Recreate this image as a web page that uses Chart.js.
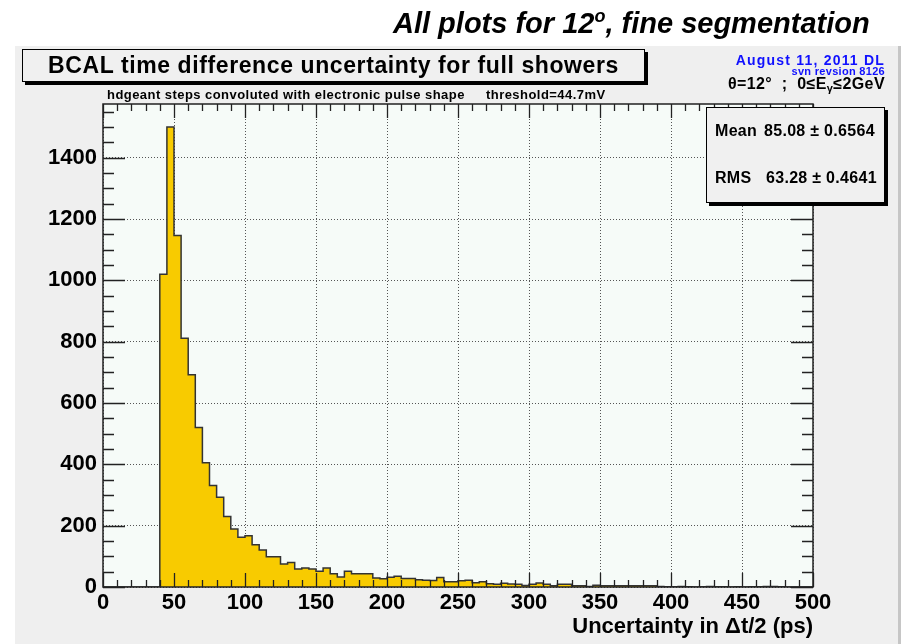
<!DOCTYPE html>
<html>
<head>
<meta charset="utf-8">
<script src="https://cdn.jsdelivr.net/npm/chart.js@4"></script>
<style>
  body { margin: 0; width: 907px; height: 644px; overflow: hidden; position: relative; background: #fff;
         font-family: "Liberation Sans", Arial, sans-serif; }
  .abs { position: absolute; white-space: nowrap; }
  #panel { left: 15px; top: 46px; width: 883px; height: 598px; background: #efefef; border-right: 3px solid #c6c6c6; }
  #chart { position: absolute; left: 0; top: 0; }
  #header { left: 393px; top: 7px; font: italic bold 29px "Liberation Sans", Arial, sans-serif; line-height: 33px; color: #000; }
  #header sup { font-size: 18px; vertical-align: 11px; line-height: 0; }
  #titlebox { left: 22px; top: 49px; width: 621px; height: 31px; background: #f0f0f0; border: 1px solid #000;
              box-shadow: 3px 3px 0 #000; text-align: center; font: bold 23px "Liberation Sans", Arial, sans-serif;
              line-height: 31px; letter-spacing: 0.6px; }
  .sub { top: 87px; font: bold 13px "Liberation Sans", Arial, sans-serif; line-height: 15px; letter-spacing: 0.45px; }
  .right { right: 22px; text-align: right; font-weight: bold; }
  #date { top: 52px; font-size: 14px; line-height: 16px; color: #1010ff; letter-spacing: 1.2px; }
  #svn { top: 66px; font-size: 11px; line-height: 11px; color: #1010ff; letter-spacing: 0.3px; }
  #cuts { top: 75px; font-size: 16px; line-height: 17px; color: #000; letter-spacing: 0.4px; }
  #cuts sub { font-size: 11px; vertical-align: -3px; line-height: 0; }
  #stats { left: 706px; top: 107px; width: 177px; height: 94px; background: #f0f0f0; border: 1px solid #000;
           box-shadow: 3px 3px 0 #000; font: bold 16px "Liberation Sans", Arial, sans-serif; letter-spacing: 0.3px; }
  #stats div { position: absolute; line-height: 18px; }
</style>
</head>
<body>
<div id="panel" class="abs"></div>
<canvas id="chart" width="907" height="644"></canvas>
<div id="header" class="abs">All plots for 12<sup>o</sup>, fine segmentation</div>
<div id="titlebox" class="abs">BCAL time difference uncertainty for full showers</div>
<div class="abs sub" style="left:107px">hdgeant steps convoluted with electronic pulse shape</div>
<div class="abs sub" style="left:486px">threshold=44.7mV</div>
<div id="date" class="abs right">August 11, 2011 DL</div>
<div id="svn" class="abs right">svn revsion 8126</div>
<div id="cuts" class="abs right">&theta;=12&deg; &nbsp;; &nbsp;0&le;E<sub>&gamma;</sub>&le;2GeV</div>
<div id="stats" class="abs">
  <div style="left:8px; top:14px">Mean</div>
  <div style="left:57px; top:14px">85.08 &plusmn; 0.6564</div>
  <div style="left:8px; top:61px">RMS</div>
  <div style="left:59px; top:61px">63.28 &plusmn; 0.4641</div>
</div>
<script>
// histogram: 100 bins of 5 ps from 0 to 500
const xMin = 0;
const xMax = 500;
const binWidth = 5;
const counts = [
  0, 0, 0, 0, 0, 0, 0, 0, 1020, 1500,
  1146, 811, 692, 520, 405, 331, 293, 230, 189, 162,
  167, 138, 121, 99, 99, 75, 80, 59, 62, 59,
  51, 62, 43, 33, 51, 43, 43, 43, 29, 27,
  32, 35, 28, 28, 24, 22, 21, 31, 17, 17,
  20, 22, 14, 17, 11, 9, 12, 10, 9, 5,
  9, 13, 9, 4, 9, 9, 4, 4, 2, 6,
  4, 4, 4, 4, 4, 4, 4, 4, 2, 1,
  1, 2, 1, 0, 1, 2, 1, 1, 0, 1,
  0, 1, 1, 2, 2, 1, 0, 0, 0, 0
];
const yMax = 1575;
const xTickValues = [0, 50, 100, 150, 200, 250, 300, 350, 400, 450, 500];
const yTickValues = [0, 200, 400, 600, 800, 1000, 1200, 1400];
const xMinorStep = 10;
const yMinorStep = 50;
const xTitle = 'Uncertainty in \u0394t/2 (ps)';

const points = counts.map((c, i) => ({ x: xMin + i * binWidth, y: c }));
points.push({ x: xMax, y: counts[counts.length - 1] });

// ROOT-like frame: pad colour, ticks on all four sides pointing inwards
const rootFrame = {
  id: 'rootFrame',
  beforeDraw(chart) {
    const { ctx, chartArea: a } = chart;
    ctx.save();
    ctx.fillStyle = '#f6fbf8';
    ctx.fillRect(a.left, a.top, a.right - a.left, a.bottom - a.top);
    ctx.restore();
  },
  afterDatasetsDraw(chart) {
    const { ctx, chartArea: a, scales: { x, y } } = chart;
    ctx.save();
    ctx.strokeStyle = '#222';
    ctx.lineWidth = 1.3;
    ctx.beginPath();
    for (let v = xMin; v <= xMax; v += xMinorStep) {
      const px = Math.round(x.getPixelForValue(v)) + 0.5;
      const len = xTickValues.includes(v) ? 14 : 7;
      ctx.moveTo(px, a.bottom); ctx.lineTo(px, a.bottom - len);
      ctx.moveTo(px, a.top); ctx.lineTo(px, a.top + len);
    }
    for (let v = 0; v <= yMax; v += yMinorStep) {
      const py = Math.round(y.getPixelForValue(v)) + 0.5;
      const len = yTickValues.includes(v) ? 22 : 11;
      ctx.moveTo(a.left, py); ctx.lineTo(a.left + len, py);
      ctx.moveTo(a.right, py); ctx.lineTo(a.right - len, py);
    }
    ctx.stroke();
    ctx.lineWidth = 1.5;
    ctx.strokeRect(a.left, a.top, a.right - a.left, a.bottom - a.top);
    ctx.restore();
  }
};

Chart.defaults.font.family = '"Liberation Sans", Arial, sans-serif';

new Chart(document.getElementById('chart'), {
  type: 'line',
  data: {
    datasets: [{
      data: points,
      stepped: 'before',
      fill: 'origin',
      backgroundColor: '#f8cb00',
      borderColor: '#333',
      borderWidth: 1.5,
      pointRadius: 0,
      tension: 0
    }]
  },
  options: {
    responsive: false,
    animation: false,
    layout: { padding: { left: 0, right: 94, top: 104, bottom: 0 } },
    plugins: { legend: { display: false }, tooltip: { enabled: false } },
    scales: {
      x: {
        type: 'linear',
        min: xMin,
        max: xMax,
        afterFit: (s) => { s.height = 57; },
        afterBuildTicks: (s) => { s.ticks = xTickValues.map((v) => ({ value: v })); },
        ticks: {
          color: '#000', font: { size: 22, weight: 'bold' }, padding: 3, maxRotation: 0, autoSkip: false,
          callback: (v) => String(v)
        },
        grid: { color: '#555', drawTicks: false, lineWidth: 1 },
        border: { display: false, dash: [1, 2] },
        title: {
          display: true, text: xTitle, align: 'end', color: '#000',
          font: { size: 22, weight: 'bold' }, padding: { top: 0, bottom: 4 }
        }
      },
      y: {
        min: 0,
        max: yMax,
        afterFit: (s) => { s.width = 103; },
        afterBuildTicks: (s) => { s.ticks = yTickValues.map((v) => ({ value: v })); },
        ticks: {
          color: '#000', font: { size: 22, weight: 'bold' }, padding: 6, autoSkip: false,
          callback: (v) => String(v)
        },
        grid: { color: '#555', drawTicks: false, lineWidth: 1 },
        border: { display: false, dash: [1, 2] }
      }
    }
  },
  plugins: [rootFrame]
});
</script>
</body>
</html>
